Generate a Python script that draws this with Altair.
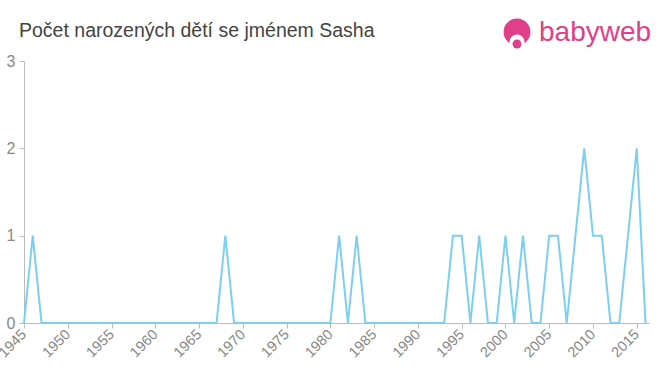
import altair as alt
import pandas as pd

years = list(range(1945, 2017))
counts_nonzero = {
    1946: 1, 1968: 1, 1981: 1, 1983: 1, 1994: 1, 1995: 1, 1997: 1,
    2000: 1, 2002: 1, 2005: 1, 2006: 1, 2008: 1, 2009: 2, 2010: 1,
    2011: 1, 2014: 1, 2015: 2,
}
counts = [counts_nonzero.get(y, 0) for y in years]
x_ticks = list(range(1945, 2016, 5))
y_ticks = [0, 1, 2, 3]
title_text = ["Počet narozených dětí se jménem Sasha"]
logo_text = ["babyweb"]

df = pd.DataFrame({"rok": years, "pocet": counts})

line = alt.Chart(df).mark_line(color="#7ccfee", strokeWidth=2, interpolate="linear").encode(
    x=alt.X("rok:Q", scale=alt.Scale(domain=[1945, 2016.4], nice=False, zero=False),
            axis=alt.Axis(values=x_ticks, format="d", labelAngle=-45, labelAlign="right",
                          labelBaseline="middle", title=None, grid=False,
                          domainColor="#bbbbbb", tickColor="#bbbbbb", tickSize=5,
                          labelColor="#888888", labelFontSize=14.5, labelPadding=4,
                          labelFont="Liberation Sans", labelOverlap=False)),
    y=alt.Y("pocet:Q", scale=alt.Scale(domain=[0, 3], nice=False),
            axis=alt.Axis(values=y_ticks, format="d", title=None, grid=False,
                          domainColor="#bbbbbb", tickColor="#bbbbbb", tickSize=5,
                          labelColor="#888888", labelFontSize=16, labelPadding=4,
                          labelFont="Liberation Sans")),
)

title_df = pd.DataFrame({"t": title_text})
title = alt.Chart(title_df).mark_text(color="#444444", fontSize=19.5, align="left",
                                      baseline="alphabetic", font="Liberation Sans").encode(
    x=alt.value(-5), y=alt.value(-24), text="t:N"
)

logo_df = pd.DataFrame({"t": logo_text})
logo_circle = alt.Chart(logo_df).mark_circle(color="#e0408a", opacity=1, size=720).encode(
    x=alt.value(493), y=alt.value(-29)
)
logo_face = alt.Chart(logo_df).mark_circle(color="#ffffff", opacity=1, size=230).encode(
    x=alt.value(493), y=alt.value(-19)
)
logo_nose = alt.Chart(logo_df).mark_circle(color="#e0408a", opacity=1, size=80).encode(
    x=alt.value(493), y=alt.value(-17)
)
logo_word = alt.Chart(logo_df).mark_text(color="#e0408a", fontSize=28, align="left",
                                         baseline="middle", font="Liberation Sans").encode(
    x=alt.value(515), y=alt.value(-28), text="t:N"
)

chart = alt.layer(line, title, logo_circle, logo_face, logo_nose, logo_word).properties(
    width=625, height=262,
    padding={"left": 24, "top": 61, "right": 11, "bottom": 52},
    autosize=alt.AutoSizeParams(type="none"),
).configure_view(stroke=None)

chart.save("out.html", embed_options={"renderer": "svg", "actions": False})
